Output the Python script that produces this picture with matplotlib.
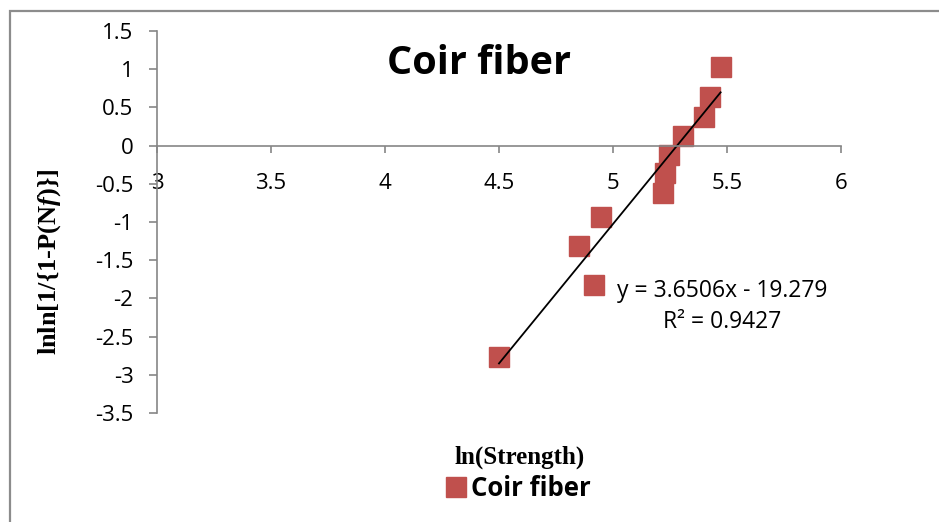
import matplotlib
matplotlib.use("Agg")
import matplotlib.pyplot as plt
from matplotlib.lines import Line2D
from matplotlib.patches import Rectangle
import numpy as np

# Data
ln_strength = [4.50, 4.852, 4.917, 4.946, 5.221, 5.227, 5.246, 5.306, 5.400, 5.425, 5.472]
lnln_p = [-2.77, -1.31, -1.82, -0.94, -0.625, -0.36, -0.12, 0.12, 0.37, 0.64, 1.03]
slope = 3.6506
intercept = -19.279
r2 = 0.9427
x_ticks = [3, 3.5, 4, 4.5, 5, 5.5, 6]
x_tick_labels = ["3", "3.5", "4", "4.5", "5", "5.5", "6"]
y_ticks = [1.5, 1, 0.5, 0, -0.5, -1, -1.5, -2, -2.5, -3, -3.5]
y_tick_labels = ["1.5", "1", "0.5", "0", "-0.5", "-1", "-1.5", "-2", "-2.5", "-3", "-3.5"]
series_name = "Coir fiber"

plt.rcParams['mathtext.fontset'] = 'custom'
plt.rcParams['mathtext.it'] = 'Liberation Serif:italic:bold'
plt.rcParams['mathtext.rm'] = 'Liberation Serif:bold'

fig = plt.figure(figsize=(9.39, 5.22), dpi=100)
W, H = 939, 522
# chart border (top and left visible)
fig.patches.append(Rectangle((9.5 / W, -0.1), 1.2, (1 - 10.5 / H) + 0.1, transform=fig.transFigure,
                             fill=False, edgecolor="#8c8c8c", linewidth=1.6))

ax = fig.add_axes([157 / W, 1 - 413 / H, (841 - 157) / W, (413 - 31) / H])
color = "#C0504D"
ax.plot(ln_strength, lnln_p, linestyle="none", marker="s", markersize=14.5,
        color=color, markeredgecolor=color)
xs = np.array([min(ln_strength), max(ln_strength)])
ax.plot(xs, slope * xs + intercept, color="black", linewidth=1.3)

ax.set_xlim(3, 6)
ax.set_ylim(-3.5, 1.5)
ax.set_xticks(x_ticks)
ax.set_xticklabels(x_tick_labels)
ax.set_yticks(y_ticks)
ax.set_yticklabels(y_tick_labels)

for s in ["top", "right"]:
    ax.spines[s].set_visible(False)
ax.spines["bottom"].set_position(("data", 0))
for s in ["left", "bottom"]:
    ax.spines[s].set_color("#868686")
    ax.spines[s].set_linewidth(1.2)
ax.tick_params(axis="x", direction="out", length=5, width=1.2, color="#868686",
               pad=15, labelsize=16, labelcolor="black")
ax.tick_params(axis="y", direction="out", length=6, width=1.2, color="#868686",
               pad=11, labelsize=16, labelcolor="black")
for lab in ax.get_xticklabels() + ax.get_yticklabels():
    lab.set_fontfamily("Open Sans")

fig.text(479 / W, 1 - 63 / H, "Coir fiber", ha="center", va="center",
         fontsize=28.5, fontweight="bold", family="Open Sans")

fig.text(50 / W, 1 - 262 / H, r"lnln[1/{1-P(N$\mathit{f}$)}]", rotation=90,
         ha="center", va="center", fontsize=19, fontweight="bold", family="Liberation Serif")
fig.text(520 / W, 1 - 457 / H, "ln(Strength)", ha="center", va="center",
         fontsize=18, fontweight="bold", family="Liberation Serif")

fig.text(722 / W, 1 - 291 / H, "y = 3.6506x - 19.279", ha="center", va="center",
         fontsize=16.5, family="Open Sans")
fig.text(722 / W, 1 - 322 / H, "R² = 0.9427", ha="center", va="center",
         fontsize=16.5, family="Open Sans")

handle = Line2D([], [], linestyle="none", marker="s", markersize=14.5, color=color)
fig.legend([handle], [series_name], loc="center", bbox_to_anchor=(517 / W, 1 - 488 / H),
           frameon=False, handletextpad=0.1, handlelength=1.0,
           prop={"family": "Open Sans", "weight": "bold", "size": 18.5})

fig.savefig("out.png", dpi=100, facecolor="white")
